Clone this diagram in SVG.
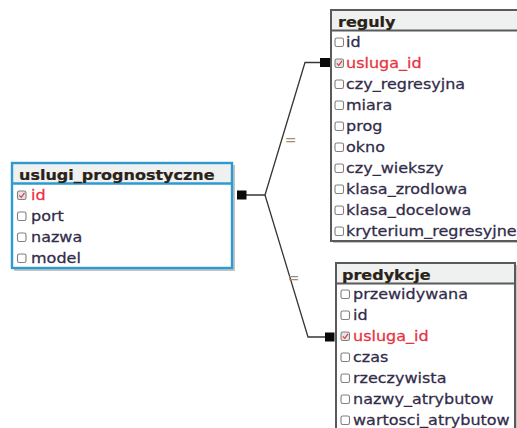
<svg xmlns="http://www.w3.org/2000/svg" width="517" height="428" viewBox="0 0 517 428">
  <style>
    .shadow { fill: #c4c4c4; }
    .body { fill: #ffffff; }
    .head { fill: #eff1f1; }
    .blue { stroke: #2f9ad1; stroke-width: 2.4; fill: none; }
    .gray { stroke: #5a5a5a; stroke-width: 2; fill: none; }
    .hdr { font-family: "DejaVu Sans", Verdana, sans-serif; font-weight: bold; font-size: 13.8px; fill: #2a2216; stroke: #2a2216; stroke-width: 0.2; }
    .fld { font-family: "DejaVu Sans", Verdana, sans-serif; font-size: 13.8px; fill: #322c4a; stroke: #322c4a; stroke-width: 0.25; }
    .key { fill: #e8333f; stroke: #e8333f; }
    .cb { fill: #ffffff; stroke: #808080; stroke-width: 1.1; }
    .cbk { fill: #e4e4e4; stroke: #808080; stroke-width: 1.1; }
    .tick { fill: none; stroke: #e23a40; stroke-width: 1.2; }
    .wire { fill: none; stroke: #363636; stroke-width: 1.3; }
    .end { fill: #0a0a0a; }
    .lbl { font-family: "DejaVu Sans", sans-serif; font-size: 14px; fill: #a08e78; }
  </style>

  <!-- relationships -->
  <g id="connectors">
    <path class="wire" d="M246 195 H265 L305 62.5 H320"/>
    <path class="wire" d="M265 195 L308 337 H325"/>
    <rect class="end" x="237" y="190.5" width="9.5" height="9"/>
    <rect class="end" x="320" y="58" width="10" height="9"/>
    <rect class="end" x="325" y="332.5" width="9.5" height="9"/>
    <text class="lbl" x="290.5" y="145" text-anchor="middle">=</text>
    <text class="lbl" x="293.5" y="282.5" text-anchor="middle">=</text>
  </g>

  <!-- table uslugi_prognostyczne -->
  <g id="uslugi_prognostyczne">
    <rect class="shadow" x="14" y="165" width="221" height="106"/>
    <rect class="body" x="12" y="163" width="220" height="105"/>
    <rect class="head" x="12" y="163" width="220" height="20.5"/>
    <line class="blue" x1="12" y1="183.5" x2="232" y2="183.5"/>
    <rect class="blue" x="12" y="163" width="220" height="105"/>
    <text class="hdr" transform="translate(19 180) scale(1.16 1)">uslugi_prognostyczne</text>
    <rect class="cbk" x="17.5" y="191" width="8.5" height="8.5" rx="1.8"/>
    <path class="tick" d="M19.3 195.3 L21.3 197.3 L24.5 192.8"/>
    <text class="fld key" transform="translate(31 200) scale(1.16 1)">id</text>
    <rect class="cb" x="17.5" y="212" width="8.5" height="8.5" rx="1.8"/>
    <text class="fld" transform="translate(31 221) scale(1.16 1)">port</text>
    <rect class="cb" x="17.5" y="233" width="8.5" height="8.5" rx="1.8"/>
    <text class="fld" transform="translate(31 242) scale(1.16 1)">nazwa</text>
    <rect class="cb" x="17.5" y="254" width="8.5" height="8.5" rx="1.8"/>
    <text class="fld" transform="translate(31 263) scale(1.16 1)">model</text>
  </g>

  <!-- table reguly -->
  <g id="reguly">
    <rect class="shadow" x="333" y="12" width="200" height="231"/>
    <rect class="body" x="331" y="10" width="200" height="231"/>
    <rect class="head" x="331" y="10" width="200" height="21"/>
    <line class="gray" x1="331" y1="30.5" x2="531" y2="30.5"/>
    <rect class="gray" x="331" y="10" width="200" height="231"/>
    <text class="hdr" transform="translate(338 27) scale(1.16 1)">reguly</text>
    <rect class="cb" x="335" y="38" width="8.5" height="8.5" rx="1.8"/>
    <text class="fld" transform="translate(346 46.5) scale(1.16 1)">id</text>
    <rect class="cbk" x="335" y="59" width="8.5" height="8.5" rx="1.8"/>
    <path class="tick" d="M336.8 63.3 L338.8 65.3 L342 60.8"/>
    <text class="fld key" transform="translate(346 67.5) scale(1.16 1)">usluga_id</text>
    <rect class="cb" x="335" y="80" width="8.5" height="8.5" rx="1.8"/>
    <text class="fld" transform="translate(346 88.5) scale(1.16 1)">czy_regresyjna</text>
    <rect class="cb" x="335" y="101" width="8.5" height="8.5" rx="1.8"/>
    <text class="fld" transform="translate(346 109.5) scale(1.16 1)">miara</text>
    <rect class="cb" x="335" y="122" width="8.5" height="8.5" rx="1.8"/>
    <text class="fld" transform="translate(346 130.5) scale(1.16 1)">prog</text>
    <rect class="cb" x="335" y="143" width="8.5" height="8.5" rx="1.8"/>
    <text class="fld" transform="translate(346 151.5) scale(1.16 1)">okno</text>
    <rect class="cb" x="335" y="164" width="8.5" height="8.5" rx="1.8"/>
    <text class="fld" transform="translate(346 172.5) scale(1.16 1)">czy_wiekszy</text>
    <rect class="cb" x="335" y="185" width="8.5" height="8.5" rx="1.8"/>
    <text class="fld" transform="translate(346 193.5) scale(1.16 1)">klasa_zrodlowa</text>
    <rect class="cb" x="335" y="206" width="8.5" height="8.5" rx="1.8"/>
    <text class="fld" transform="translate(346 214.5) scale(1.16 1)">klasa_docelowa</text>
    <rect class="cb" x="335" y="227" width="8.5" height="8.5" rx="1.8"/>
    <text class="fld" transform="translate(346 235.5) scale(1.16 1)">kryterium_regresyjne</text>
  </g>

  <!-- table predykcje -->
  <g id="predykcje">
    <rect class="shadow" x="338" y="265" width="179" height="170"/>
    <rect class="body" x="336" y="263" width="179" height="170"/>
    <rect class="head" x="336" y="263" width="179" height="20.5"/>
    <line class="gray" x1="336" y1="283.5" x2="515" y2="283.5"/>
    <rect class="gray" x="336" y="263" width="179" height="170"/>
    <text class="hdr" transform="translate(342 280) scale(1.16 1)">predykcje</text>
    <rect class="cb" x="341" y="290" width="8.5" height="8.5" rx="1.8"/>
    <text class="fld" transform="translate(353 298.5) scale(1.16 1)">przewidywana</text>
    <rect class="cb" x="341" y="311" width="8.5" height="8.5" rx="1.8"/>
    <text class="fld" transform="translate(353 319.5) scale(1.16 1)">id</text>
    <rect class="cbk" x="341" y="332" width="8.5" height="8.5" rx="1.8"/>
    <path class="tick" d="M342.8 336.3 L344.8 338.3 L348 333.8"/>
    <text class="fld key" transform="translate(353 340.5) scale(1.16 1)">usluga_id</text>
    <rect class="cb" x="341" y="353" width="8.5" height="8.5" rx="1.8"/>
    <text class="fld" transform="translate(353 361.5) scale(1.16 1)">czas</text>
    <rect class="cb" x="341" y="374" width="8.5" height="8.5" rx="1.8"/>
    <text class="fld" transform="translate(353 382.5) scale(1.16 1)">rzeczywista</text>
    <rect class="cb" x="341" y="395" width="8.5" height="8.5" rx="1.8"/>
    <text class="fld" transform="translate(353 403.5) scale(1.16 1)">nazwy_atrybutow</text>
    <rect class="cb" x="341" y="416" width="8.5" height="8.5" rx="1.8"/>
    <text class="fld" transform="translate(353 424.5) scale(1.16 1)">wartosci_atrybutow</text>
  </g>
</svg>
